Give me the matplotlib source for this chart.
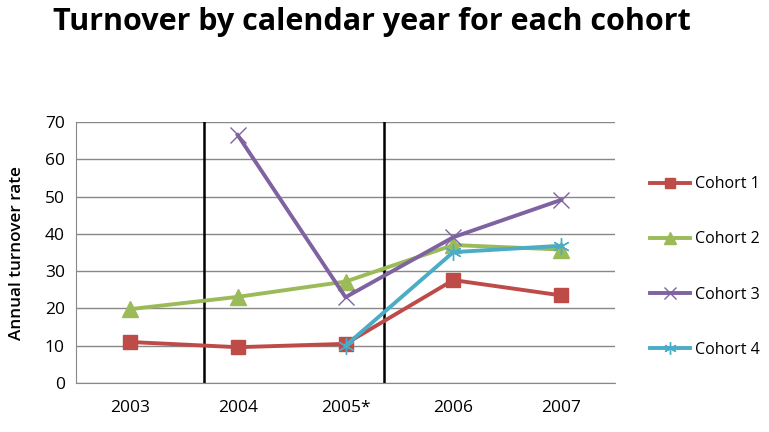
import matplotlib
matplotlib.use("Agg")
import matplotlib.pyplot as plt
import numpy as np

categories = ["2003", "2004", "2005*", "2006", "2007"]
cohort1 = [11.0, 9.6, 10.5, 27.6, 23.5]
cohort2 = [19.8, 23.1, 27.2, 37.0, 35.8]
cohort3 = [np.nan, 66.5, 23.0, 39.1, 49.1]
cohort4 = [np.nan, np.nan, 10.0, 35.1, 36.8]
separators = [0.69, 2.36]

plt.rcParams['font.family'] = ['Open Sans', 'DejaVu Sans']

fig = plt.figure(figsize=(7.69, 4.32), dpi=100)
ax = fig.add_axes([76/769, 1-383/432, (615-76)/769, (383-122)/432])

x = np.arange(len(categories))
ax.plot(x, cohort1, color='#BE4B48', lw=2.8, marker='s', ms=10, mec='#BE4B48', mfc='#BE4B48', label='Cohort 1', zorder=3)
ax.plot(x, cohort2, color='#9BBB59', lw=2.8, marker='^', ms=11, mec='#9BBB59', mfc='#9BBB59', label='Cohort 2', zorder=3)
ax.plot(x, cohort3, color='#7F63A1', lw=2.8, marker='x', ms=12, mew=1.0, label='Cohort 3', zorder=3)
ax.plot(x, cohort4, color='#4BACC6', lw=2.8, marker=(6, 2, 0), ms=12, mew=1.0, label='Cohort 4', zorder=3)

for s in separators:
    ax.axvline(s, color='black', lw=1.8, zorder=2)

ax.set_xlim(-0.5, 4.5)
ax.set_ylim(0, 70)
ax.set_yticks(range(0, 71, 10))
ax.set_xticks(x)
ax.set_xticklabels(categories)
ax.tick_params(axis='both', length=0, labelsize=12.5, colors='black')
ax.tick_params(axis='x', pad=12)
ax.tick_params(axis='y', pad=8)
ax.yaxis.grid(True, color='#888888', lw=1)
ax.set_axisbelow(True)
for sp in ['top', 'right']:
    ax.spines[sp].set_visible(False)
ax.spines['left'].set_color('#888888')
ax.spines['bottom'].set_color('#888888')

ax.set_ylabel('Annual turnover rate', fontsize=12.3, fontweight='semibold', labelpad=14)

fig.text(0.484, 1-22/432, 'Turnover by calendar year for each cohort', fontsize=22,
         fontweight='bold', ha='center', va='center')

leg = fig.legend(loc='center left', bbox_to_anchor=(650/769, 1-267/432), frameon=False,
                 fontsize=11.5, labelspacing=2.45, handlelength=2.5, handletextpad=0.3,
                 borderpad=0, borderaxespad=0, markerscale=0.75)

fig.savefig('out.png', dpi=100)
